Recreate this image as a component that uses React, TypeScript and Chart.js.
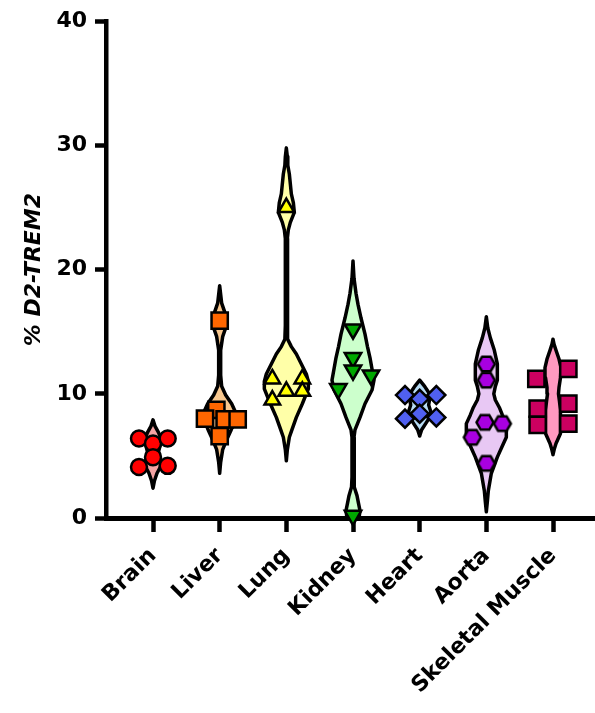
import { useEffect, useRef } from 'react';
import { Chart, registerables } from 'chart.js';

Chart.register(...registerables);

// ---- data ----
const categories = ['Brain', 'Liver', 'Lung', 'Kidney', 'Heart', 'Aorta', 'Skeletal Muscle'];
const yTicks = [0, 10, 20, 30, 40];

// individual values (% D2-TREM2) and their horizontal spread (category units)
const brainValues = [6.4, 6.0, 6.4, 4.9, 4.1, 4.2];
const brainSpread = [-0.21, 0, 0.22, 0, -0.21, 0.22];
const liverValues = [15.9, 8.7, 8.0, 7.95, 7.95, 6.6];
const liverSpread = [0, -0.05, -0.22, 0.075, 0.27, 0];
const lungValues = [25.0, 11.2, 11.2, 10.2, 10.2, 9.5];
const lungSpread = [0, -0.21, 0.24, 0, 0.24, -0.21];
const kidneyValues = [15.2, 12.9, 11.9, 11.5, 10.4, 0.2];
const kidneySpread = [0, 0, 0, 0.27, -0.22, 0];
const heartValues = [9.9, 9.6, 9.9, 8.0, 8.4, 8.1];
const heartSpread = [-0.22, 0, 0.25, -0.22, 0, 0.25];
const aortaValues = [12.4, 11.1, 7.7, 7.6, 6.5, 4.4];
const aortaSpread = [0, 0, -0.02, 0.24, -0.21, 0];
const muscleValues = [12.0, 11.2, 9.2, 8.8, 7.6, 7.5];
const muscleSpread = [0.23, -0.25, 0.23, -0.23, 0.23, -0.23];

// violin outlines: levels (y) and half widths (category units)
const brainLevels = [2.4, 3.0, 3.6, 4.2, 4.8, 5.3, 5.8, 6.3, 6.9, 7.4, 7.9];
const brainWidths = [0, 0.022, 0.06, 0.12, 0.105, 0.082, 0.105, 0.127, 0.082, 0.03, 0];
const liverLevels = [3.6, 4.5, 5.5, 6.3, 7.0, 7.8, 8.5, 9.2, 9.9, 10.6, 11.5, 13.5, 14.6, 15.3, 15.9, 16.6, 17.3, 18.0, 18.7];
const liverWidths = [0, 0.015, 0.045, 0.105, 0.165, 0.225, 0.24, 0.18, 0.09, 0.03, 0.015, 0.015, 0.045, 0.09, 0.105, 0.075, 0.03, 0.015, 0];
const lungLevels = [4.6, 5.5, 6.5, 7.2, 8.1, 9.2, 10.4, 11.0, 11.6, 12.4, 13.2, 13.8, 14.4, 15.5, 22.5, 23.2, 23.8, 24.6, 25.4, 26.1, 26.9, 27.7, 28.4, 29.1, 29.8];
const lungWidths = [0, 0.015, 0.045, 0.09, 0.15, 0.24, 0.33, 0.33, 0.3, 0.225, 0.15, 0.075, 0.022, 0.015, 0.015, 0.03, 0.06, 0.12, 0.105, 0.075, 0.06, 0.045, 0.022, 0.015, 0];
const kidneyLevels = [-0.6, 0, 0.6, 1.2, 1.8, 2.5, 3.3, 6.5, 7.1, 8.1, 9.2, 10.3, 11.1, 12.0, 12.9, 13.8, 14.8, 16.1, 17.2, 18.1, 19.3, 20.7];
const kidneyWidths = [0, 0.09, 0.105, 0.082, 0.06, 0.022, 0.015, 0.015, 0.03, 0.105, 0.18, 0.285, 0.315, 0.285, 0.255, 0.217, 0.18, 0.12, 0.075, 0.045, 0.015, 0];
const heartLevels = [6.6, 7.1, 7.6, 8.1, 8.6, 9.1, 9.6, 10.1, 10.6, 11.1];
const heartWidths = [0, 0.03, 0.09, 0.15, 0.165, 0.135, 0.15, 0.135, 0.075, 0];
const aortaLevels = [0.5, 1.3, 2.2, 3.6, 4.9, 5.8, 6.5, 7.6, 8.3, 8.9, 9.5, 10.0, 10.6, 11.1, 12.4, 13.5, 14.5, 15.3, 16.2];
const aortaWidths = [0, 0.015, 0.03, 0.075, 0.165, 0.24, 0.3, 0.3, 0.24, 0.195, 0.135, 0.112, 0.135, 0.165, 0.165, 0.12, 0.06, 0.022, 0];
const muscleLevels = [5.1, 5.6, 6.0, 6.8, 7.8, 8.7, 9.4, 10.0, 10.5, 11.3, 12.1, 12.8, 13.5, 14.0, 14.4];
const muscleWidths = [0, 0.022, 0.045, 0.112, 0.112, 0.112, 0.097, 0.082, 0.09, 0.112, 0.12, 0.09, 0.045, 0.015, 0];

const FONT = 'DejaVu Sans, Liberation Sans, Arial, sans-serif';

function hexagonMarker(r: number, fill: string): HTMLCanvasElement {
  const c = document.createElement('canvas');
  const s = Math.ceil(2 * r + 5);
  c.width = s;
  c.height = s;
  const ctx = c.getContext('2d')!;
  ctx.beginPath();
  for (let k = 0; k < 6; k++) {
    const a = (Math.PI / 3) * k;
    const px = s / 2 + r * Math.cos(a);
    const py = s / 2 + r * Math.sin(a);
    if (k === 0) ctx.moveTo(px, py);
    else ctx.lineTo(px, py);
  }
  ctx.closePath();
  ctx.fillStyle = fill;
  ctx.fill();
  ctx.lineWidth = 2.5;
  ctx.strokeStyle = '#000';
  ctx.stroke();
  return c;
}

export default function App() {
  const ref = useRef<HTMLCanvasElement>(null);

  useEffect(() => {
    document.body.style.margin = '0';
    const canvas = ref.current;
    if (!canvas) return;

    const groups = [
      { values: brainValues, spread: brainSpread, levels: brainLevels, widths: brainWidths, color: '#FF0000', fill: '#F4A3A3', style: 'circle', radius: 8, rotation: 0 },
      { values: liverValues, spread: liverSpread, levels: liverLevels, widths: liverWidths, color: '#FF6600', fill: '#F8C890', style: 'rect', radius: 11.5, rotation: 0 },
      { values: lungValues, spread: lungSpread, levels: lungLevels, widths: lungWidths, color: '#FFFF00', fill: '#FFFFA8', style: 'triangle', radius: 9, rotation: 0 },
      { values: kidneyValues, spread: kidneySpread, levels: kidneyLevels, widths: kidneyWidths, color: '#00A800', fill: '#CCFFCC', style: 'triangle', radius: 9.5, rotation: 180 },
      { values: heartValues, spread: heartSpread, levels: heartLevels, widths: heartWidths, color: '#5060F0', fill: '#B8DCF4', style: 'rectRot', radius: 9, rotation: 0 },
      { values: aortaValues, spread: aortaSpread, levels: aortaLevels, widths: aortaWidths, color: '#A800E0', fill: '#E8C8F4', style: 'hex', radius: 8.5, rotation: 0 },
      { values: muscleValues, spread: muscleSpread, levels: muscleLevels, widths: muscleWidths, color: '#CC0060', fill: '#FF99C0', style: 'rect', radius: 11.5, rotation: 0 },
    ];

    const datasets: any[] = [];
    groups.forEach((g, i) => {
      const isHex = g.style === 'hex';
      datasets.push({
        type: 'line',
        data: g.values.map((v, k) => ({ x: i + g.spread[k], y: v })),
        showLine: false,
        pointStyle: isHex ? hexagonMarker(g.radius, g.color) : g.style,
        pointRadius: g.radius,
        pointHoverRadius: g.radius,
        pointRotation: g.rotation,
        pointBackgroundColor: g.color,
        pointBorderColor: '#000',
        pointBorderWidth: 2.5,
        clip: false,
        order: 0,
      });
    });
    groups.forEach((g, i) => {
      const left = g.levels.map((y, k) => ({ x: i - g.widths[k], y }));
      const right = g.levels.map((y, k) => ({ x: i + g.widths[k], y })).reverse();
      datasets.push({
        type: 'line',
        data: [...left, ...right, left[0]],
        showLine: true,
        fill: 'shape',
        backgroundColor: g.fill,
        borderColor: '#000',
        borderWidth: 3.5,
        borderJoinStyle: 'round',
        borderCapStyle: 'round',
        pointRadius: 0,
        pointHoverRadius: 0,
        tension: 0,
        order: 1,
      });
    });

    const chart = new Chart(canvas, {
      type: 'line',
      data: { datasets },
      options: {
        responsive: false,
        animation: false,
        events: [],
        layout: { autoPadding: false, padding: { top: 20, left: 0, right: 0, bottom: 0 } },
        plugins: { legend: { display: false }, tooltip: { enabled: false } },
        scales: {
          x: {
            type: 'linear',
            min: -0.705,
            max: 6.63,
            afterBuildTicks: (s: any) => {
              s.ticks = categories.map((_, i) => ({ value: i }));
            },
            afterFit: (s: any) => {
              s.height = 195;
              s.paddingLeft = 0;
              s.paddingRight = 0;
            },
            ticks: {
              autoSkip: false,
              maxRotation: 45,
              minRotation: 45,
              color: '#000',
              padding: 11,
              font: { family: FONT, size: 22, weight: 'bold' },
              callback: (v: any) => categories[v as number] ?? '',
            },
            grid: { drawOnChartArea: false, drawTicks: true, tickLength: 14, tickWidth: 4.5, tickColor: '#000' },
            border: { display: true, color: '#000', width: 5 },
          },
          y: {
            type: 'linear',
            min: yTicks[0],
            max: yTicks[yTicks.length - 1],
            afterBuildTicks: (s: any) => {
              s.ticks = yTicks.map((v) => ({ value: v }));
            },
            afterFit: (s: any) => {
              s.width = 106;
            },
            ticks: {
              color: '#000',
              padding: 8,
              font: { family: FONT, size: 22, weight: 'bold' },
            },
            grid: { drawOnChartArea: false, drawTicks: true, tickLength: 11, tickWidth: 4.5, tickColor: '#000' },
            border: { display: true, color: '#000', width: 4.5 },
            title: {
              display: true,
              text: '% D2-TREM2',
              color: '#000',
              padding: { top: 21, bottom: 0 },
              font: { family: FONT, size: 22, weight: 'bold', style: 'italic' },
            },
          },
        },
      } as any,
    });

    return () => chart.destroy();
  }, []);

  return <canvas ref={ref} width={595} height={713} style={{ display: 'block' }} />;
}
